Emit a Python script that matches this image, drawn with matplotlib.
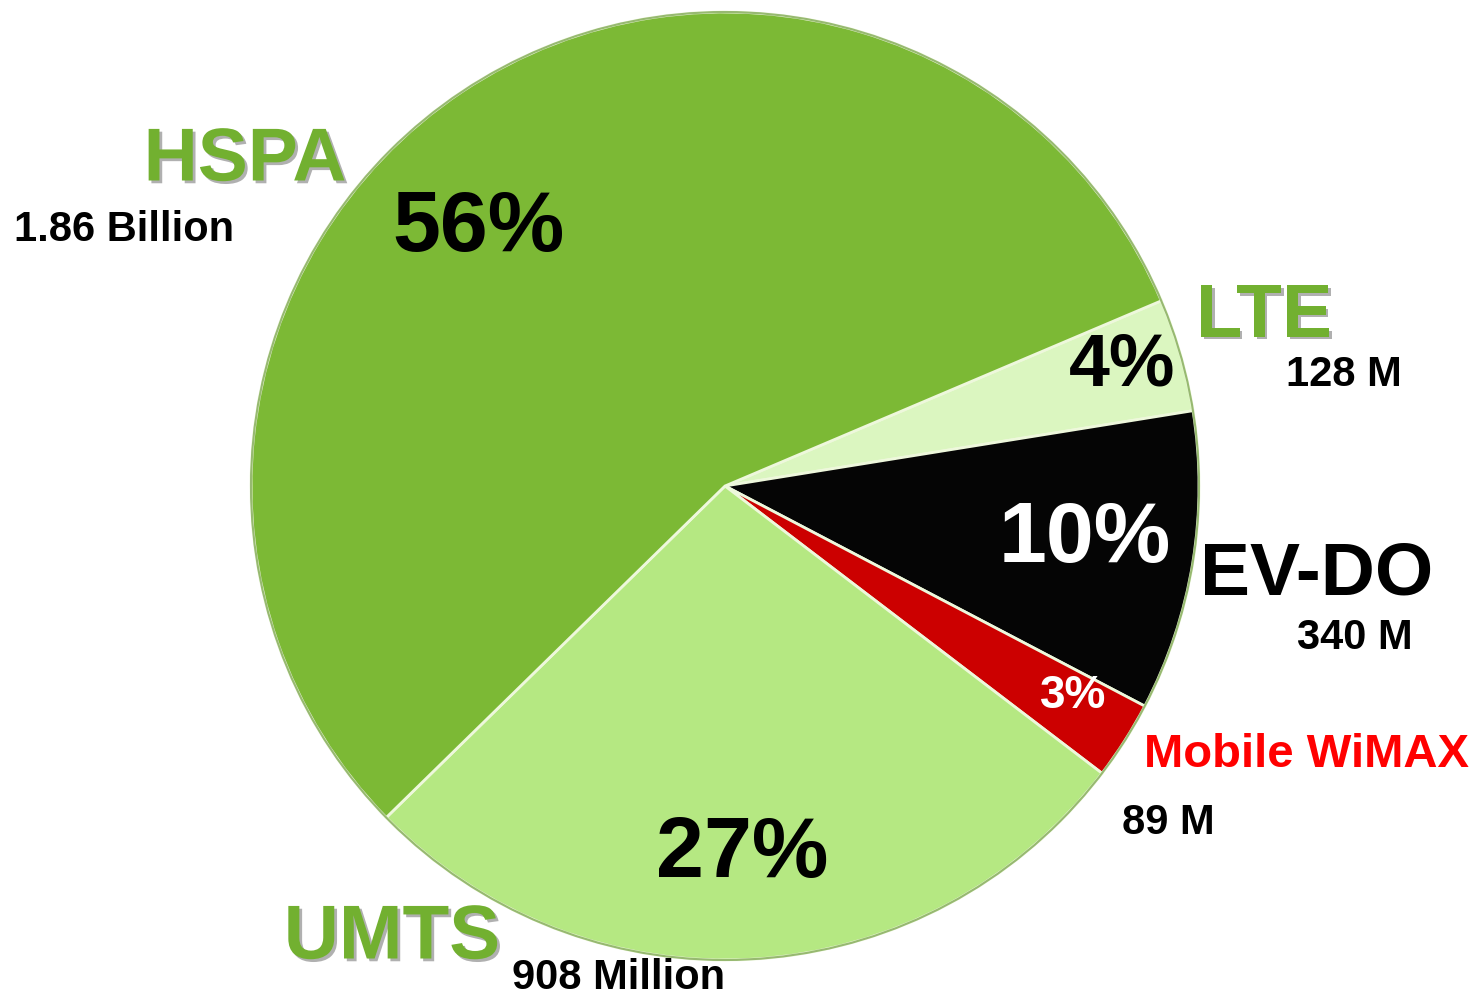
import matplotlib
matplotlib.use("Agg")
import matplotlib.pyplot as plt
import matplotlib.patheffects as pe

plt.rcParams['font.family'] = ['Liberation Sans', 'DejaVu Sans']
plt.rcParams['font.weight'] = 'bold'

# Data (subscriptions, millions)
techs = ['LTE', 'EV-DO', 'Mobile WiMAX', 'UMTS', 'HSPA']
subs = [128, 340, 89, 908, 1860]
subs_text = ['128 M', '340 M', '89 M', '908 Million', '1.86 Billion']
pct_text = ['4%', '10%', '3%', '27%', '56%']
colors = ['#dbf6c0', '#050505', '#cc0000', '#b5e882', '#7cb935']
name_colors = ['#72b030', '#000000', '#ff0000', '#72b030', '#72b030']
pct_colors = ['black', 'white', 'white', 'black', 'black']

H = 998
fig = plt.figure(figsize=(14.81, 9.98), dpi=100)
ax = fig.add_axes([0, 0, 1, 1])

ax.pie(subs, colors=colors, startangle=23, counterclock=False,
       center=(725, H - 486), radius=474,
       wedgeprops=dict(edgecolor='#eef8dc', linewidth=2))

# rim
circ = plt.Circle((725, H - 486), 474, fill=False, edgecolor='#5d8f2a', linewidth=1.5, alpha=0.6)
ax.add_patch(circ)

ax.set_xlim(0, 1481)
ax.set_ylim(0, H)
ax.set_aspect('equal')
ax.axis('off')

shadow = [pe.SimplePatchShadow(offset=(2, -2), shadow_rgbFace='#b0b0b0', alpha=1), pe.Normal()]

# label positions in pixel coords (x, y from top)
name_pos = [(1264, 317), (1317, 575), (1306, 755), (392, 939), (245, 161)]
name_size = [54, 54, 34, 55, 54]
sub_pos = [(1344, 375), (1355, 638), (1168, 823), (619, 978), (124, 230)]
pct_pos = [(1122, 366), (1085, 540), (1073, 696), (742, 855), (478, 229)]
pct_size = [53, 62, 33, 62, 62]

for i in range(len(techs)):
    fx = shadow if name_colors[i] == '#72b030' else None
    ax.text(name_pos[i][0], H - name_pos[i][1], techs[i], color=name_colors[i],
            fontsize=name_size[i], fontweight='bold', ha='center', va='center',
            path_effects=fx)
    ax.text(sub_pos[i][0], H - sub_pos[i][1], subs_text[i], color='black',
            fontsize=30, fontweight='bold', ha='center', va='center')
    ax.text(pct_pos[i][0], H - pct_pos[i][1], pct_text[i], color=pct_colors[i],
            fontsize=pct_size[i], fontweight='bold', ha='center', va='center')

fig.savefig('out.png', dpi=100, facecolor='white')
